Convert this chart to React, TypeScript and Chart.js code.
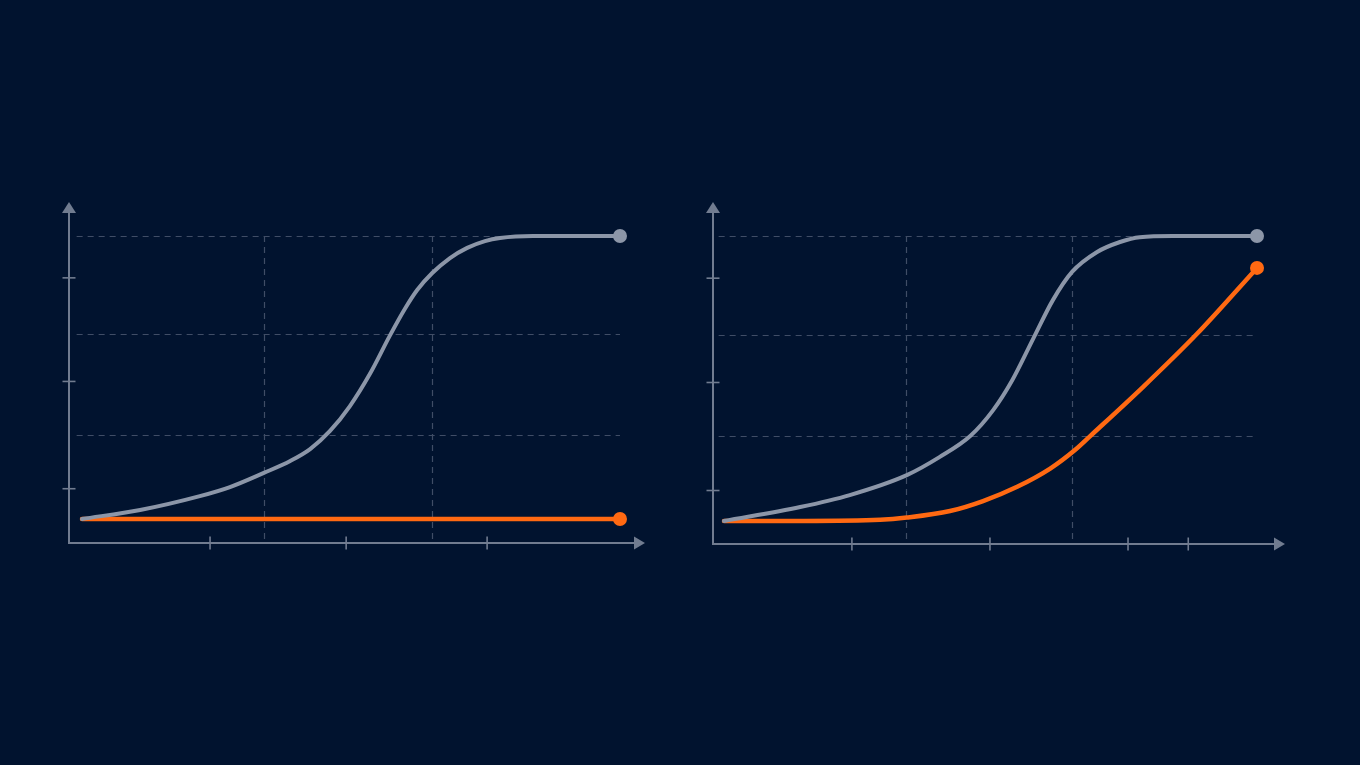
import { useEffect, useRef } from 'react'
import { Chart, registerables } from 'chart.js'
import type { Plugin } from 'chart.js'

Chart.register(...registerables)

// left panel: the baseline stays flat
const leftGrayX = [0, 10.8, 21.9, 27.5, 33.8, 38.7, 42.4, 46.1, 49.8, 53.5, 57.2, 60.0, 62.3, 65.1, 68.4, 71.6, 74.9, 77.7, 83.8, 100]
const leftGrayY = [0, 3.2, 8.1, 11.3, 16.3, 20.5, 24.7, 31.1, 39.9, 51.2, 64.7, 74.2, 80.9, 86.9, 92.2, 95.8, 98.2, 99.3, 100, 100]
const leftOrangeX = [0, 100]
const leftOrangeY = [0, 0]

// right panel: the orange curve takes off late
const rightGrayX = [0, 14.3, 23.6, 34.3, 40.5, 46.2, 50.5, 54.0, 58.0, 61.7, 65.3, 70.0, 74.3, 78.0, 84.2, 100]
const rightGrayY = [0, 4.9, 9.1, 16.1, 22.5, 29.8, 38.9, 49.1, 63.9, 77.5, 87.4, 94.4, 97.9, 99.6, 100, 100]
const rightOrangeX = [0, 15, 29.3, 34.3, 42.4, 48.6, 55.0, 61.2, 65.9, 68.7, 78.6, 88.7, 100]
const rightOrangeY = [0, 0, 0.4, 1.2, 3.5, 7.0, 12.0, 18.4, 25.0, 29.8, 47.0, 65.6, 88.8]

// dashed grid and tick marks (data units)
const gridY = [29.7, 65.4, 100]
const leftGridX = [33.8, 65.1]
const rightGridX = [34.1, 65.3]
const tickY = [10.7, 48.6, 85.2]
const leftTickX = [23.8, 49.1, 75.3]
const rightTickX = [24.0, 49.9, 75.8, 87.1]

const BG = '#01132f'
const GRAY = '#8c96a8'
const ORANGE = '#ff6912'
const AXIS = '#717c90'
const GRID = '#404d66'

type AxisOpts = { gridX: number[]; gridY: number[]; tickX: number[]; tickY: number[] }

const arrowAxes: Plugin<'line'> = {
  id: 'arrowAxes',
  beforeDatasetsDraw(chart, _args, opts: any) {
    const o = opts as AxisOpts
    const { ctx, chartArea } = chart
    const sx = chart.scales.x
    const sy = chart.scales.y
    const x0 = chartArea.left
    const y0 = chartArea.bottom
    ctx.save()

    // dashed grid
    ctx.strokeStyle = GRID
    ctx.lineWidth = 1.2
    ctx.setLineDash([6, 5])
    const gx1 = sx.getPixelForValue(-1)
    const gx2 = sx.getPixelForValue(100)
    o.gridY.forEach(v => {
      const py = Math.round(sy.getPixelForValue(v)) + 0.5
      ctx.beginPath()
      ctx.moveTo(gx1, py)
      ctx.lineTo(gx2, py)
      ctx.stroke()
    })
    const gyTop = sy.getPixelForValue(100)
    o.gridX.forEach(v => {
      const px = Math.round(sx.getPixelForValue(v)) + 0.5
      ctx.beginPath()
      ctx.moveTo(px, gyTop)
      ctx.lineTo(px, y0 - 4)
      ctx.stroke()
    })
    ctx.setLineDash([])

    // axes with arrow heads
    ctx.strokeStyle = AXIS
    ctx.fillStyle = AXIS
    ctx.lineWidth = 2
    ctx.beginPath()
    ctx.moveTo(x0, chartArea.top + 10)
    ctx.lineTo(x0, y0)
    ctx.lineTo(chartArea.right - 10, y0)
    ctx.stroke()

    ctx.beginPath()
    ctx.moveTo(x0, chartArea.top)
    ctx.lineTo(x0 - 7, chartArea.top + 11)
    ctx.lineTo(x0 + 7, chartArea.top + 11)
    ctx.closePath()
    ctx.fill()

    ctx.beginPath()
    ctx.moveTo(chartArea.right, y0)
    ctx.lineTo(chartArea.right - 11, y0 - 6.5)
    ctx.lineTo(chartArea.right - 11, y0 + 6.5)
    ctx.closePath()
    ctx.fill()

    // tick marks crossing the axes
    ctx.lineWidth = 1.6
    o.tickX.forEach(v => {
      const px = sx.getPixelForValue(v)
      ctx.beginPath()
      ctx.moveTo(px, y0 - 6.5)
      ctx.lineTo(px, y0 + 6.5)
      ctx.stroke()
    })
    o.tickY.forEach(v => {
      const py = sy.getPixelForValue(v)
      ctx.beginPath()
      ctx.moveTo(x0 - 6.5, py)
      ctx.lineTo(x0 + 6.5, py)
      ctx.stroke()
    })
    ctx.restore()
  }
}

const toPoints = (xs: number[], ys: number[]) => xs.map((x, i) => ({ x, y: ys[i] }))

interface PanelProps {
  left: number
  top: number
  padding: { left: number; right: number; top: number; bottom: number }
  xRange: [number, number]
  yRange: [number, number]
  gray: { x: number; y: number }[]
  orange: { x: number; y: number }[]
  axes: AxisOpts
}

function CurvePanel({ left, top, padding, xRange, yRange, gray, orange, axes }: PanelProps) {
  const canvasRef = useRef<HTMLCanvasElement>(null)

  useEffect(() => {
    if (!canvasRef.current) return
    const endDot = (n: number) => (c: any) => (c.dataIndex === n - 1 ? 7 : 0)

    const chart = new Chart(canvasRef.current, {
      type: 'line',
      data: {
        datasets: [
          {
            data: gray,
            borderColor: GRAY,
            backgroundColor: GRAY,
            borderWidth: 4,
            borderCapStyle: 'round',
            cubicInterpolationMode: 'monotone',
            pointRadius: endDot(gray.length),
            pointBorderWidth: 0,
            pointHoverRadius: 0,
            clip: false
          },
          {
            data: orange,
            borderColor: ORANGE,
            backgroundColor: ORANGE,
            borderWidth: 4.5,
            borderCapStyle: 'round',
            cubicInterpolationMode: 'monotone',
            pointRadius: endDot(orange.length),
            pointBorderWidth: 0,
            pointHoverRadius: 0,
            clip: false
          }
        ]
      },
      options: {
        animation: false,
        responsive: true,
        maintainAspectRatio: false,
        events: [],
        layout: { padding },
        scales: {
          x: { type: 'linear', display: false, min: xRange[0], max: xRange[1] },
          y: { type: 'linear', display: false, min: yRange[0], max: yRange[1] }
        },
        plugins: {
          legend: { display: false },
          tooltip: { enabled: false },
          arrowAxes: axes
        } as any
      },
      plugins: [arrowAxes]
    })

    return () => chart.destroy()
  }, [])

  return (
    <div style={{ position: 'absolute', left, top, width: 630, height: 390 }}>
      <canvas ref={canvasRef}></canvas>
    </div>
  )
}

export default function App() {
  return (
    <div style={{ position: 'fixed', inset: 0, background: BG, overflow: 'hidden' }}>
      <CurvePanel
        left={40}
        top={180}
        padding={{ left: 29, right: 25, top: 22, bottom: 27 }}
        xRange={[-2.42, 104.65]}
        yRange={[-8.48, 112.0]}
        gray={toPoints(leftGrayX, leftGrayY)}
        orange={toPoints(leftOrangeX, leftOrangeY)}
        axes={{ gridX: leftGridX, gridY, tickX: leftTickX, tickY }}
      />
      <CurvePanel
        left={684}
        top={180}
        padding={{ left: 29, right: 29, top: 22, bottom: 26 }}
        xRange={[-2.06, 105.25]}
        yRange={[-8.07, 111.93]}
        gray={toPoints(rightGrayX, rightGrayY)}
        orange={toPoints(rightOrangeX, rightOrangeY)}
        axes={{ gridX: rightGridX, gridY, tickX: rightTickX, tickY }}
      />
    </div>
  )
}
